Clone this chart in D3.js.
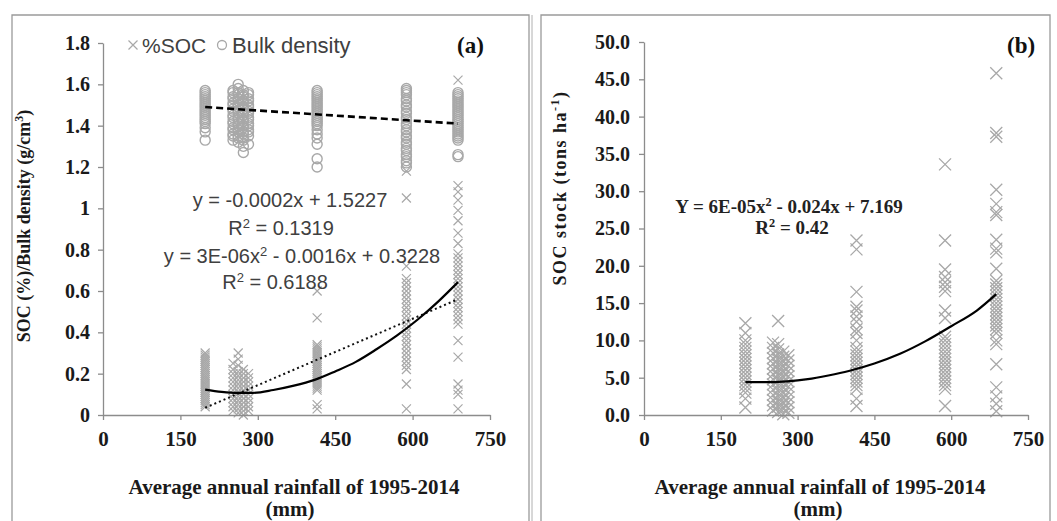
<!DOCTYPE html>
<html>
<head>
<meta charset="utf-8">
<script src="https://cdn.jsdelivr.net/npm/d3@7"></script>
<style>
  html, body { margin: 0; padding: 0; background: #fff; }
  svg { display: block; }
</style>
</head>
<body>
<svg id="chart" width="1057" height="521"></svg>
<script>
// ---------------- DATA ----------------
const rainSites = [198, 252, 262, 272, 282, 415, 588, 688];

// Panel (a): bulk density (g/cm3) per site
const bulkDensity = [
  [1.57,1.56,1.55,1.54,1.53,1.52,1.51,1.50,1.49,1.48,1.47,1.46,1.45,1.44,1.43,1.42,1.41,1.39,1.37,1.33],
  [1.57,1.56,1.54,1.53,1.51,1.50,1.48,1.47,1.45,1.44,1.42,1.41,1.39,1.38,1.36,1.35,1.33],
  [1.60,1.58,1.56,1.55,1.53,1.52,1.50,1.49,1.47,1.46,1.44,1.43,1.41,1.40,1.38,1.37,1.35,1.34,1.32],
  [1.57,1.55,1.54,1.52,1.51,1.49,1.48,1.46,1.45,1.43,1.42,1.40,1.39,1.37,1.36,1.34,1.33,1.30,1.27],
  [1.56,1.55,1.53,1.52,1.50,1.49,1.47,1.46,1.44,1.43,1.41,1.40,1.38,1.37,1.35,1.31],
  [1.57,1.56,1.55,1.54,1.53,1.52,1.51,1.50,1.49,1.48,1.47,1.46,1.45,1.44,1.43,1.42,1.41,1.40,1.38,1.36,1.34,1.31,1.24,1.20],
  [1.58,1.57,1.56,1.55,1.53,1.52,1.50,1.49,1.47,1.46,1.44,1.43,1.41,1.40,1.38,1.37,1.35,1.34,1.32,1.31,1.29,1.28,1.26,1.25,1.23,1.22,1.20],
  [1.56,1.55,1.54,1.53,1.52,1.51,1.50,1.49,1.48,1.47,1.46,1.45,1.44,1.43,1.42,1.41,1.40,1.39,1.38,1.37,1.36,1.35,1.34,1.33,1.26,1.25]
];

// Panel (a): %SOC per site
const socPercent = [
  [0.30,0.29,0.28,0.27,0.26,0.25,0.24,0.23,0.22,0.21,0.20,0.19,0.18,0.17,0.16,0.15,0.14,0.13,0.12,0.11,0.10,0.09,0.08,0.07,0.06,0.05,0.04],
  [0.25,0.22,0.20,0.18,0.16,0.14,0.12,0.10,0.08,0.06,0.04,0.02],
  [0.30,0.27,0.24,0.21,0.19,0.17,0.15,0.13,0.11,0.09,0.07,0.05,0.03,0.01],
  [0.22,0.20,0.18,0.16,0.14,0.12,0.10,0.08,0.06,0.04,0.02,0.00],
  [0.20,0.18,0.16,0.14,0.12,0.10,0.08,0.06,0.04,0.02],
  [0.60,0.47,0.34,0.33,0.32,0.31,0.30,0.29,0.28,0.27,0.26,0.25,0.24,0.23,0.22,0.21,0.20,0.19,0.18,0.17,0.16,0.15,0.14,0.13,0.12,0.05,0.03],
  [1.18,1.05,0.72,0.66,0.64,0.62,0.60,0.58,0.56,0.54,0.52,0.50,0.48,0.46,0.44,0.42,0.40,0.38,0.36,0.34,0.32,0.30,0.28,0.26,0.24,0.22,0.15,0.03],
  [1.62,1.11,1.08,1.04,0.99,0.94,0.88,0.83,0.78,0.76,0.74,0.72,0.70,0.68,0.66,0.64,0.62,0.60,0.58,0.56,0.54,0.52,0.50,0.48,0.46,0.44,0.36,0.28,0.15,0.12,0.10,0.03]
];

// Panel (b): SOC stock (tons/ha) per site
const socStock = [
  [12.3,11.0,10.0,9.5,9.0,8.5,8.0,7.5,7.0,6.5,6.0,5.5,5.0,4.5,4.0,3.5,3.0,2.2,1.0],
  [9.7,9.0,8.3,7.6,6.9,6.2,5.5,4.8,4.1,3.4,2.7,2.0,1.3,0.6],
  [12.6,9.5,8.8,8.1,7.4,6.7,6.0,5.3,4.6,3.9,3.2,2.5,1.8,1.1,0.4],
  [8.5,7.8,7.1,6.4,5.7,5.0,4.3,3.6,2.9,2.2,1.5,0.8,0.1],
  [8.0,7.3,6.6,5.9,5.2,4.5,3.8,3.1,2.4,1.7,1.0,0.3],
  [23.4,22.2,16.5,14.5,14.0,13.2,12.5,11.5,11.0,10.0,9.0,8.5,8.0,7.5,7.0,6.5,6.0,5.5,5.0,4.5,4.0,3.5,2.2,1.2],
  [33.6,23.4,19.5,18.5,17.8,17.2,16.6,14.0,13.0,10.5,10.0,9.5,9.0,8.5,8.0,7.5,7.0,6.5,6.0,5.5,5.0,4.5,4.0,3.5,1.2],
  [45.8,37.8,37.3,30.2,28.3,27.2,26.8,23.5,22.3,21.8,19.6,18.0,17.5,17.0,16.5,16.0,15.5,15.0,14.5,14.0,13.5,13.0,12.5,12.0,11.5,11.0,10.0,9.5,6.8,3.7,2.5,1.5,0.5]
];

// Trend lines
const bdTrendX = [198, 688];
const bdTrendY = [1.49, 1.41];
const socLinearX = [198, 688];
const socLinearY = [0.035, 0.56];
const socQuadX = [198, 230, 260, 290, 330, 370, 410, 450, 490, 530, 570, 610, 650, 688];
const socQuadY = [0.123, 0.112, 0.107, 0.107, 0.121, 0.142, 0.170, 0.211, 0.257, 0.318, 0.385, 0.462, 0.550, 0.643];
const stockQuadX = [198, 250, 280, 320, 360, 400, 450, 500, 550, 600, 650, 688];
const stockQuadY = [4.4, 4.4, 4.5, 4.8, 5.3, 5.9, 6.9, 8.2, 9.9, 11.9, 14.0, 16.2];

// Ticks
const xTicks = [0, 150, 300, 450, 600, 750];
const yTicksA = [0, 0.2, 0.4, 0.6, 0.8, 1, 1.2, 1.4, 1.6, 1.8];
const yTickLabelsA = ["0", "0.2", "0.4", "0.6", "0.8", "1", "1.2", "1.4", "1.6", "1.8"];
const yTicksB = [0, 5, 10, 15, 20, 25, 30, 35, 40, 45, 50];
const yTickLabelsB = ["0.0","5.0","10.0","15.0","20.0","25.0","30.0","35.0","40.0","45.0","50.0"];

// ---------------- DRAW ----------------
const svg = d3.select("#chart");
const AXIS = "#8c8c8c";
const MARK = "#a8a8a8";
const SERIF = "'Liberation Serif', 'Times New Roman', serif";
const SANS = "'Liberation Sans', Arial, sans-serif";

// panel frames
svg.append("path").attr("d", "M12,521 V15 H529 V521").attr("fill", "none").attr("stroke", "#9a9a9a").attr("stroke-width", 1.3);
svg.append("line").attr("x1", 532).attr("x2", 532).attr("y1", 15).attr("y2", 521).attr("stroke", "#b0b0b0").attr("stroke-width", 1);
svg.append("path").attr("d", "M541,521 V15 H1050 V521").attr("fill", "none").attr("stroke", "#9a9a9a").attr("stroke-width", 1.3);

function crossPath(s) {
  return `M${-s},${-s}L${s},${s}M${-s},${s}L${s},${-s}`;
}

function drawAxes(g, x, y, yTicks, yLabels, labPad) {
  const ax = g.append("g").attr("transform", `translate(0,${y(0)})`)
    .call(d3.axisBottom(x).tickValues(xTicks).tickFormat(d => String(d)).tickSize(5).tickSizeOuter(0).tickPadding(11));
  const ay = g.append("g").attr("transform", `translate(${x(0)},0)`)
    .call(d3.axisLeft(y).tickValues(yTicks).tickFormat((d, i) => yLabels[i]).tickSize(5).tickSizeOuter(0).tickPadding(labPad));
  [ax, ay].forEach(a => {
    a.selectAll("path.domain").attr("stroke", AXIS).attr("stroke-width", 1.3);
    a.selectAll(".tick line").attr("stroke", AXIS).attr("stroke-width", 1.3);
    a.selectAll("text").attr("font-family", SERIF).attr("font-weight", "bold")
      .attr("font-size", 20).attr("fill", "#1a1a1a");
  });
  ax.selectAll("text").attr("font-size", 21);
}

// ---------- Panel (a) ----------
const xA = d3.scaleLinear().domain([0, 750]).range([103, 490]);
const yA = d3.scaleLinear().domain([0, 1.8]).range([415, 43]);
const gA = svg.append("g");

// bulk density circles
const bdPts = [];
bulkDensity.forEach((arr, i) => arr.forEach(v => bdPts.push([rainSites[i], v])));
gA.append("g").selectAll("circle").data(bdPts).join("circle")
  .attr("cx", d => xA(d[0])).attr("cy", d => yA(d[1])).attr("r", 5)
  .attr("fill", "none").attr("stroke", MARK).attr("stroke-width", 1.4);

// soc crosses
const socPts = [];
socPercent.forEach((arr, i) => arr.forEach(v => socPts.push([rainSites[i], v])));
gA.append("g").selectAll("path").data(socPts).join("path")
  .attr("transform", d => `translate(${xA(d[0])},${yA(d[1])})`)
  .attr("d", crossPath(4.5)).attr("fill", "none").attr("stroke", MARK).attr("stroke-width", 1.2);

drawAxes(gA, xA, yA, yTicksA, yTickLabelsA, 8);

// trend lines
const lineA = d3.line().x(d => xA(d[0])).y(d => yA(d[1]));
gA.append("path").datum(bdTrendX.map((v, i) => [v, bdTrendY[i]])).attr("d", lineA)
  .attr("fill", "none").attr("stroke", "#000").attr("stroke-width", 2.6).attr("stroke-dasharray", "7,4");
gA.append("path").datum(socLinearX.map((v, i) => [v, socLinearY[i]])).attr("d", lineA)
  .attr("fill", "none").attr("stroke", "#111").attr("stroke-width", 2).attr("stroke-dasharray", "2,3");
gA.append("path").datum(socQuadX.map((v, i) => [v, socQuadY[i]])).attr("d", lineA.curve(d3.curveMonotoneX))
  .attr("fill", "none").attr("stroke", "#000").attr("stroke-width", 2.2);

// legend
gA.append("path").attr("transform", "translate(133,45)").attr("d", crossPath(4.5))
  .attr("fill", "none").attr("stroke", MARK).attr("stroke-width", 1.2);
gA.append("text").attr("x", 142).attr("y", 53).text("%SOC")
  .attr("font-family", SANS).attr("font-size", 21).attr("fill", "#404040");
gA.append("circle").attr("cx", 222).attr("cy", 45).attr("r", 4.5)
  .attr("fill", "none").attr("stroke", MARK).attr("stroke-width", 1.3);
gA.append("text").attr("x", 232).attr("y", 53).text("Bulk density")
  .attr("font-family", SANS).attr("font-size", 22).attr("fill", "#404040");

gA.append("text").attr("x", 457).attr("y", 53).text("(a)")
  .attr("font-family", SERIF).attr("font-weight", "bold").attr("font-size", 23).attr("fill", "#111");

// equations
function eqText(g, x, y, parts, opts) {
  const t = g.append("text").attr("x", x).attr("y", y).attr("text-anchor", "middle")
    .attr("font-family", opts.family).attr("font-size", opts.size).attr("fill", opts.fill)
    .attr("font-weight", opts.weight || "normal");
  parts.forEach(p => {
    if (typeof p === "string") t.append("tspan").text(p);
    else t.append("tspan").attr("baseline-shift", "super").attr("font-size", opts.size * 0.65).text(p.sup);
  });
}
const eqOptsA = { family: SANS, size: 20, fill: "#404040" };
eqText(gA, 290, 207, ["y = -0.0002x + 1.5227"], eqOptsA);
eqText(gA, 281, 235, ["R", { sup: "2" }, " = 0.1319"], eqOptsA);
eqText(gA, 302, 263, ["y = 3E-06x", { sup: "2" }, " - 0.0016x + 0.3228"], eqOptsA);
eqText(gA, 275, 289, ["R", { sup: "2" }, " = 0.6188"], eqOptsA);

// axis titles
const titleStyle = sel => sel.attr("font-family", SERIF).attr("font-weight", "bold").attr("font-size", 21).attr("fill", "#1a1a1a").attr("text-anchor", "middle");
titleStyle(gA.append("text").attr("x", 294).attr("y", 494).text("Average annual rainfall of 1995-2014"));
titleStyle(gA.append("text").attr("x", 290).attr("y", 516).text("(mm)"));

const yTitleA = gA.append("text").attr("transform", "translate(30,226) rotate(-90)")
  .attr("text-anchor", "middle").attr("font-family", SERIF).attr("font-weight", "bold")
  .attr("font-size", 18).attr("fill", "#1a1a1a");
yTitleA.append("tspan").text("SOC (%)/Bulk density (g/cm");
yTitleA.append("tspan").attr("baseline-shift", "super").attr("font-size", 12).text("3");
yTitleA.append("tspan").text(")");

// ---------- Panel (b) ----------
const xB = d3.scaleLinear().domain([0, 750]).range([644, 1028]);
const yB = d3.scaleLinear().domain([0, 50]).range([415, 42]);
const gB = svg.append("g");

const stPts = [];
socStock.forEach((arr, i) => arr.forEach(v => stPts.push([rainSites[i], v])));
gB.append("g").selectAll("path").data(stPts).join("path")
  .attr("transform", d => `translate(${xB(d[0])},${yB(d[1])})`)
  .attr("d", crossPath(6)).attr("fill", "none").attr("stroke", MARK).attr("stroke-width", 1.3);

drawAxes(gB, xB, yB, yTicksB, yTickLabelsB, 9);

const lineB = d3.line().x(d => xB(d[0])).y(d => yB(d[1])).curve(d3.curveMonotoneX);
gB.append("path").datum(stockQuadX.map((v, i) => [v, stockQuadY[i]])).attr("d", lineB)
  .attr("fill", "none").attr("stroke", "#000").attr("stroke-width", 2.2);

gB.append("text").attr("x", 1007).attr("y", 53).text("(b)")
  .attr("font-family", SERIF).attr("font-weight", "bold").attr("font-size", 23).attr("fill", "#111");

const eqOptsB = { family: SERIF, size: 19, fill: "#222", weight: "bold" };
eqText(gB, 789, 213, ["Y = 6E-05x", { sup: "2" }, " - 0.024x + 7.169"], eqOptsB);
eqText(gB, 792, 234, ["R", { sup: "2" }, " = 0.42"], eqOptsB);

titleStyle(gB.append("text").attr("x", 820).attr("y", 494).text("Average annual rainfall of 1995-2014"));
titleStyle(gB.append("text").attr("x", 818).attr("y", 516).text("(mm)"));

const yTitleB = gB.append("text").attr("transform", "translate(566,188) rotate(-90)")
  .attr("text-anchor", "middle").attr("font-family", SERIF).attr("font-weight", "bold")
  .attr("font-size", 18).attr("letter-spacing", 1.5).attr("fill", "#1a1a1a");
yTitleB.append("tspan").text("SOC stock (tons ha");
yTitleB.append("tspan").attr("baseline-shift", "super").attr("font-size", 12).text("-1");
yTitleB.append("tspan").text(")");
</script>
</body>
</html>
